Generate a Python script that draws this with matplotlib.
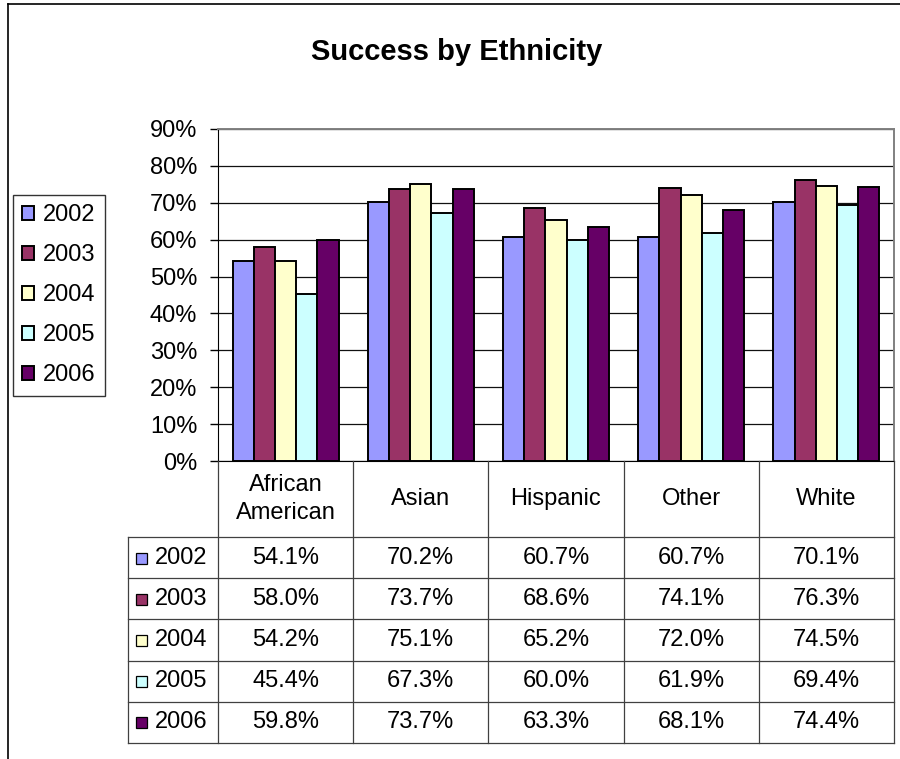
import numpy as np
import matplotlib.pyplot as plt
from matplotlib import transforms
from matplotlib.patches import Rectangle
from matplotlib.lines import Line2D

plt.rcParams['font.family'] = ['Liberation Sans', 'DejaVu Sans']

# dados
categorias = ["African\nAmerican", "Asian", "Hispanic", "Other", "White"]
anos = ["2002", "2003", "2004", "2005", "2006"]
v2002 = [54.1, 70.2, 60.7, 60.7, 70.1]
v2003 = [58.0, 73.7, 68.6, 74.1, 76.3]
v2004 = [54.2, 75.1, 65.2, 72.0, 74.5]
v2005 = [45.4, 67.3, 60.0, 61.9, 69.4]
v2006 = [59.8, 73.7, 63.3, 68.1, 74.4]
series = [v2002, v2003, v2004, v2005, v2006]
cores = ["#9999FF", "#993366", "#FFFFCC", "#CCFFFF", "#660066"]

W, H = 900, 759
fig = plt.figure(figsize=(9, 7.59), dpi=100)

def fx(px):
    return px / W

def fy(py):
    return 1 - py / H

# area do grafico (em pixels)
x0, x1, ytop, ybot = 218, 894, 129, 461
ax = fig.add_axes([fx(x0), fy(ybot), fx(x1 - x0), (ybot - ytop) / H])

x = np.arange(len(categorias))
w = 0.157
barras = []
for i, (vals, cor) in enumerate(zip(series, cores)):
    b = ax.bar(x + (i - 2) * w, np.array(vals) / 100, width=w, color=cor,
               edgecolor="black", linewidth=1.4, zorder=3, label=anos[i])
    barras.append(b)

ax.set_xlim(-0.5, len(categorias) - 0.5)
ax.set_ylim(0, 0.9)
ax.set_yticks(np.arange(0, 0.91, 0.1))
ax.set_yticklabels([f"{int(round(t * 100))}%" for t in np.arange(0, 0.91, 0.1)])
ax.set_xticks([])
ax.tick_params(axis="y", direction="out", length=6, width=1, labelsize=17, pad=9)
ax.yaxis.grid(True, color="#111111", linewidth=0.9, zorder=0)
ax.spines["left"].set_color("black")
ax.spines["bottom"].set_color("black")
for s in ["top", "right"]:
    ax.spines[s].set_color("#808080")
    ax.spines[s].set_linewidth(1.4)

fig.text(fx(457), fy(52), "Success by Ethnicity", ha="center", va="center",
         fontsize=21, fontweight="bold")

# tabela de dados embaixo
tr = transforms.blended_transform_factory(ax.transData, fig.transFigure)
y_head = 537
row_h = 41.2
y_fim = y_head + row_h * len(anos)
cor_linha = "#404040"

bordas = np.arange(len(categorias) + 1) - 0.5
for b in bordas:
    fig.add_artist(Line2D([b, b], [fy(ybot), fy(y_fim)], transform=tr,
                          color=cor_linha, linewidth=0.9))
fig.add_artist(Line2D([fx(128), fx(128)], [fy(y_head), fy(y_fim)],
                      transform=fig.transFigure, color=cor_linha, linewidth=0.9))
for r in range(len(anos) + 1):
    yy = fy(y_head + r * row_h)
    fig.add_artist(Line2D([fx(128), fx(x1)], [yy, yy], transform=fig.transFigure,
                          color=cor_linha, linewidth=0.9))

for j, cat in enumerate(categorias):
    fig.text(x[j], fy((ybot + y_head) / 2), cat, transform=tr, ha="center",
             va="center", fontsize=17, linespacing=1.4)

for i, (vals, cor) in enumerate(zip(series, cores)):
    yc = y_head + row_h * (i + 0.5)
    fig.add_artist(Rectangle((fx(136), fy(yc + 6)), fx(11), 11 / H,
                             transform=fig.transFigure, facecolor=cor,
                             edgecolor="black", linewidth=0.9))
    fig.text(fx(155), fy(yc), anos[i], ha="left", va="center", fontsize=17)
    for j, v in enumerate(vals):
        fig.text(x[j], fy(yc), f"{v:.1f}%", transform=tr, ha="center",
                 va="center", fontsize=17)

# legenda
leg = fig.legend(handles=barras, labels=anos, loc="upper left",
                 bbox_to_anchor=(fx(13), fy(195)), fontsize=17, frameon=True,
                 fancybox=False, edgecolor="black", handlelength=0.5,
                 handleheight=0.5, handletextpad=0.35, labelspacing=0.76,
                 borderpad=0.4, borderaxespad=0)
leg.get_frame().set_linewidth(1.0)

# moldura externa
fig.add_artist(Line2D([fx(8), 1], [fy(4), fy(4)], transform=fig.transFigure,
                      color="black", linewidth=1.2))
fig.add_artist(Line2D([fx(8), fx(8)], [fy(4), 0], transform=fig.transFigure,
                      color="black", linewidth=1.2))

fig.savefig("out.png", dpi=100)
